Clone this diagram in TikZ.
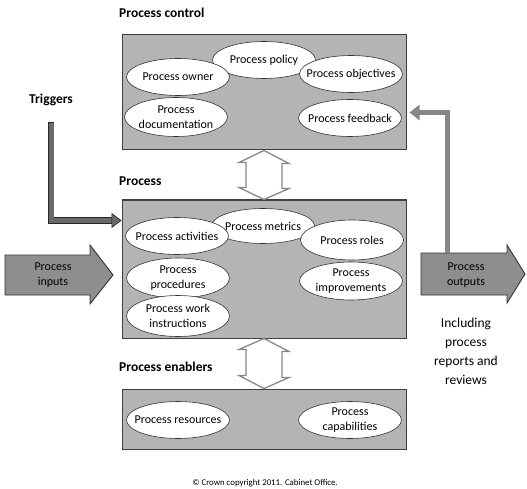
\documentclass[tikz,border=0pt]{standalone}
\usepackage{fontspec}
\setmainfont{Carlito}
\usetikzlibrary{shapes.geometric,arrows.meta}
\definecolor{boxgray}{HTML}{B4B4B4}
\definecolor{arrowgray}{HTML}{8E8E8E}
\definecolor{linkgray}{HTML}{888888}
\definecolor{triggray}{HTML}{6A6A6A}
\begin{document}
\begin{tikzpicture}[x=1pt,y=-1pt,
  panel/.style={draw=black!75, line width=1pt, fill=boxgray, inner sep=0pt},
  ell/.style={ellipse, draw=black!80, line width=0.6pt, fill=white, minimum width=103pt, minimum height=37pt,
    inner sep=0pt},
  eltext/.style={inner sep=0pt, align=center, font=\fontsize{12}{15.5}\selectfont},
  heading/.style={anchor=west, inner sep=0pt, font=\fontsize{13.5}{16}\selectfont\bfseries},
  blockarrow/.style={draw=black!80, line width=0.9pt, fill=arrowgray},
  twoway/.style={draw=linkgray, line width=1.3pt, fill=white},
  plain/.style={inner sep=0pt, align=center, font=\fontsize{12}{15.5}\selectfont}]
\useasboundingbox (0,0) rectangle (527,489);

% headings
\node[heading] (hctrl) at (119,13) {Process control};
\node[heading] (hproc) at (119,181) {Process};
\node[heading] (hen) at (119,367) {Process enablers};
\node[heading, anchor=center] (htrig) at (51,100) {Triggers};

% panels
\node[panel, minimum width=284pt, minimum height=115pt] (ctrl) at (264,92.5) {};
\node[panel, minimum width=284pt, minimum height=138pt] (proc) at (264,269) {};
\node[panel, minimum width=284pt, minimum height=60pt] (en) at (264,419) {};

% process control elements
\node[ell, label={[eltext]center:Process policy}] (policy) at (264,60) {};
\node[ell, label={[eltext]center:Process owner}] (owner) at (178,77) {};
\node[ell, label={[eltext]center:Process objectives}] (objectives) at (351,74) {};
\node[ell, minimum height=39pt, label={[eltext]center:{Process\\documentation}}] (doc) at (176,117) {};
\node[ell, label={[eltext]center:Process feedback}] (feedback) at (350,118) {};

% process elements
\node[ell, minimum height=35pt, label={[eltext]center:Process metrics}] (metrics) at (263,226) {};
\node[ell, label={[eltext]center:Process activities}] (activities) at (177,236) {};
\node[ell, minimum height=40pt, label={[eltext]center:Process roles}] (roles) at (352,240) {};
\node[ell, minimum height=40pt, label={[eltext]center:{Process\\procedures}}] (procedures) at (178,278) {};
\node[ell, minimum height=38pt, label={[eltext]center:{Process\\improvements}}] (improvements) at (351,281) {};
\node[ell, minimum height=41pt, label={[eltext]center:{Process work\\instructions}}] (work) at (178,316) {};

% enabler elements
\node[ell, label={[eltext]center:Process resources}] (resources) at (178,420) {};
\node[ell, label={[eltext]center:{Process\\capabilities}}] (capabilities) at (350,420) {};

% two-way links between panels
\draw[twoway] (ctrl.south) -- ++(25,13) -- ++(-7,0) -- ++(0,25) -- ++(7,0)
  -- (proc.north) -- ++(-25,-12) -- ++(7,0) -- ++(0,-25) -- ++(-7,0) -- cycle;
\draw[twoway] (proc.south) -- ++(25,13) -- ++(-7,0) -- ++(0,26) -- ++(7,0)
  -- (en.north) -- ++(-25,-13) -- ++(7,0) -- ++(0,-26) -- ++(-7,0) -- cycle;

% inputs and outputs
\coordinate (inA) at (5,255);
\draw[blockarrow] (inA) -- (90,255) -- (90,245) -- (113,275) -- (90,304) -- (90,295) -- (5,295) -- cycle;
\node[plain] (inputs) at (53,275) {Process\\inputs};
\coordinate (outA) at (421,253);
\draw[blockarrow] (outA) -- (507,253) -- (507,245) -- (525,274) -- (507,303) -- (507,295) -- (421,295) -- cycle;
\node[plain] (outputs) at (466,275) {Process\\outputs};
\node[plain, font=\fontsize{13.5}{19}\selectfont] (note) at (466,351) {Including\\process\\reports and\\reviews};

% triggers: outlined dark bar into the process panel
\coordinate (trigtop) at (51,123);
\coordinate (trigend) at (proc.west |- 0,220.5);
\draw[black!85, line width=6.4pt, shorten >=9pt] (51,122.4) |- (trigend);
\draw[triggray, line width=5pt,
  -{Triangle[length=10pt,width=15pt,color=black!85,fill=triggray,line width=0.7pt]}]
  (trigtop) |- (trigend);

% feedback from outputs back to the control panel
\coordinate (fbfoot) at (447.5,253);
\draw[arrowgray!95!black, line width=5.5pt, -{Triangle[length=10pt,width=15pt]}]
  (fbfoot) |- ([xshift=3pt]ctrl.east |- 0,112.5);

% copyright line
\node[plain, font=\fontsize{8.8}{10}\selectfont] (copy) at (265,483) {© Crown copyright 2011. Cabinet Office.};
\end{tikzpicture}
\end{document}
